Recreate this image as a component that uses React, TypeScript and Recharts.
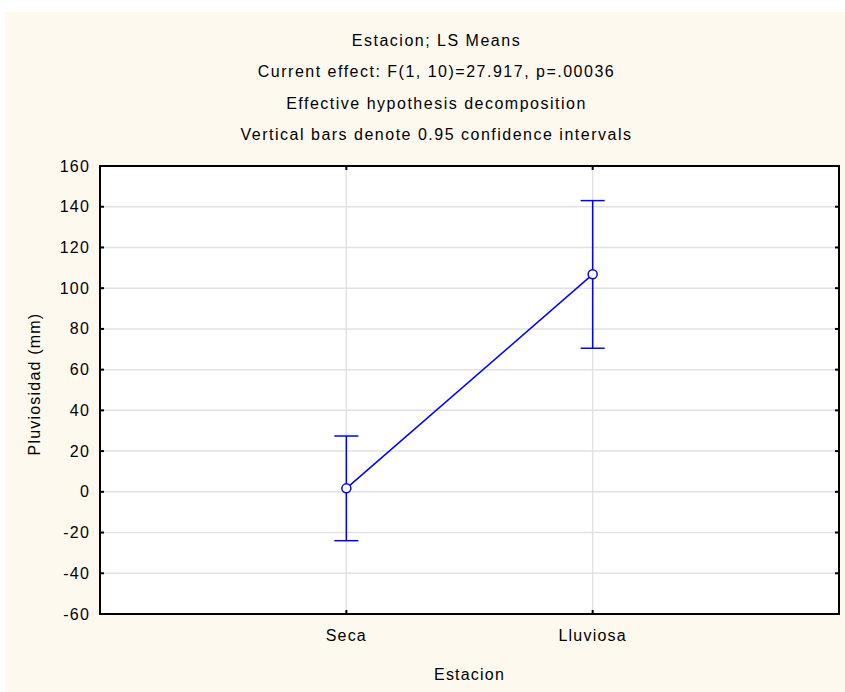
import React from 'react';
import { ComposedChart, Line, ErrorBar, XAxis, YAxis, CartesianGrid, ReferenceArea } from 'recharts';

const categories = ['Seca', 'Lluviosa'];
const categoryPos = [1, 2];
const means = [1.7, 106.8];
const lowerCI = [-24.0, 70.5];
const upperCI = [27.4, 143.0];
const yTicks = [-60, -40, -20, 0, 20, 40, 60, 80, 100, 120, 140, 160];
const titleLines = [
  'Estacion; LS Means',
  'Current effect: F(1, 10)=27.917, p=.00036',
  'Effective hypothesis decomposition',
  'Vertical bars denote 0.95 confidence intervals',
];

const data = categories.map((c, i) => ({
  x: categoryPos[i],
  name: c,
  y: means[i],
  err: [means[i] - lowerCI[i], upperCI[i] - means[i]],
}));

const W = 845;
const H = 692;
const M = { top: 166, right: 6, bottom: 0, left: 0 };
const YW = 100;
const XH = 78;
const PW = W - YW - M.right;
const PH = H - M.top - XH;
const FONT = '"Liberation Sans", Arial, sans-serif';
const LS = '1.2px';
const BLUE = '#0000FF';

const YTick = (props: any) => {
  const { x, y, payload } = props;
  return (
    <g>
      <line x1={x} x2={x + 4} y1={y} y2={y} stroke="#000" strokeWidth={2} />
      <line x1={x + PW - 4} x2={x + PW} y1={y} y2={y} stroke="#000" strokeWidth={2} />
      <text x={x - 10} y={y} dy={5.5} textAnchor="end" fontSize={16} fontFamily={FONT} fill="#000" style={{ letterSpacing: LS }}>
        {payload.value}
      </text>
    </g>
  );
};

const XTick = (props: any) => {
  const { x, y, payload } = props;
  const idx = categoryPos.indexOf(payload.value);
  return (
    <g>
      <line x1={x} x2={x} y1={y} y2={y - 4} stroke="#000" strokeWidth={2} />
      <line x1={x} x2={x} y1={y - PH} y2={y - PH + 4} stroke="#000" strokeWidth={2} />
      <text x={x} y={y} dy={26.5} textAnchor="middle" fontSize={16} fontFamily={FONT} fill="#000" style={{ letterSpacing: LS }}>
        {idx >= 0 ? categories[idx] : ''}
      </text>
    </g>
  );
};

export default function App() {
  return (
    <div style={{ position: 'absolute', left: 0, top: 0, width: W, height: H, background: '#fff', fontFamily: FONT }}>
      <div style={{ position: 'absolute', left: 5, top: 12, width: W - 5, height: H - 12, background: '#FEF9EF' }} />
      {titleLines.map((t, i) => (
        <div
          key={i}
          style={{
            position: 'absolute',
            left: 0,
            width: 873,
            top: 31 + i * 31.3,
            height: 20,
            lineHeight: '20px',
            textAlign: 'center',
            fontSize: 16,
            letterSpacing: '1.5px',
            color: '#000',
            whiteSpace: 'nowrap',
          }}
        >
          {t}
        </div>
      ))}
      <div
        style={{
          position: 'absolute',
          left: 35 - 100,
          top: 384 - 10,
          width: 200,
          height: 20,
          lineHeight: '20px',
          textAlign: 'center',
          fontSize: 16,
          letterSpacing: LS,
          transform: 'rotate(-90deg)',
          color: '#000',
          whiteSpace: 'nowrap',
        }}
      >
        Pluviosidad (mm)
      </div>
      <div
        style={{
          position: 'absolute',
          left: YW,
          width: PW,
          top: 665,
          height: 20,
          lineHeight: '20px',
          textAlign: 'center',
          fontSize: 16,
          letterSpacing: LS,
          color: '#000',
        }}
      >
        Estacion
      </div>
      <div style={{ position: 'absolute', left: 0, top: 0 }}>
        <ComposedChart width={W} height={H} data={data} margin={M}>
          <CartesianGrid stroke="#e2e2e2" strokeWidth={1.5} fill="#ffffff" />
          <XAxis
            dataKey="x"
            type="number"
            domain={[0, 3]}
            ticks={categoryPos}
            height={XH}
            tickSize={0}
            tickMargin={0}
            axisLine={false}
            tickLine={false}
            tick={<XTick />}
            interval={0}
          />
          <YAxis
            type="number"
            domain={[-60, 160]}
            ticks={yTicks}
            width={YW}
            tickSize={0}
            tickMargin={0}
            axisLine={false}
            tickLine={false}
            tick={<YTick />}
            interval={0}
          />
          <ReferenceArea x1={0} x2={3} y1={-60} y2={160} fill="none" stroke="#000" strokeWidth={2} fillOpacity={0} />
          <Line
            dataKey="y"
            stroke={BLUE}
            strokeWidth={1.5}
            isAnimationActive={false}
            dot={{ r: 4.5, fill: '#fff', stroke: BLUE, strokeWidth: 1.5 }}
            activeDot={false}
          >
            <ErrorBar dataKey="err" width={12} stroke={BLUE} strokeWidth={1.5} direction="y" isAnimationActive={false} />
          </Line>
        </ComposedChart>
      </div>
    </div>
  );
}
